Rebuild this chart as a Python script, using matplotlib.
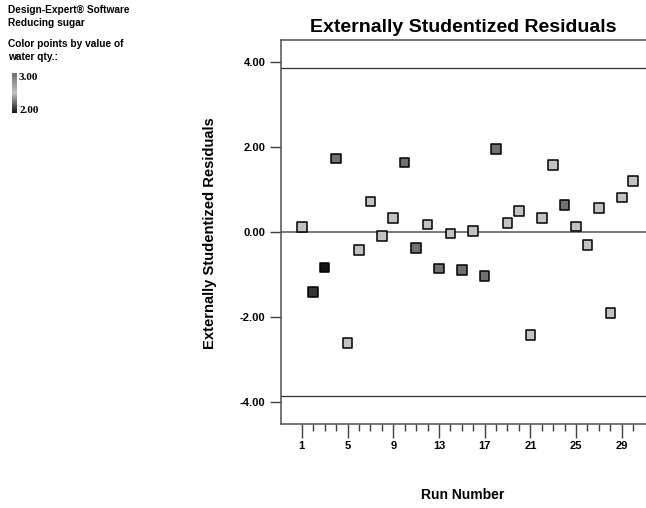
import numpy as np
import matplotlib
matplotlib.use("Agg")
import matplotlib.pyplot as plt
from matplotlib.colors import LinearSegmentedColormap

plt.rcParams['font.family'] = ['Liberation Sans', 'DejaVu Sans']
plt.rcParams['font.weight'] = 'bold'

# residuals by run order
runs = list(range(1, 31))
residuals = [0.11, -1.42, -0.84, 1.72, -2.62, -0.43, 0.71, -0.10, 0.32, 1.63,
             -0.38, 0.17, -0.86, -0.04, -0.90, 0.02, -1.04, 1.95, 0.20, 0.49,
             -2.43, 0.32, 1.57, 0.63, 0.12, -0.31, 0.56, -1.91, 0.81, 1.20]
# water qty. of each run (colour key)
water_qty = [2.5, 2.1, 2.0, 3.0, 2.5, 2.5, 2.5, 2.5, 2.5, 3.0,
             3.0, 2.5, 3.0, 2.5, 3.0, 2.5, 3.0, 3.0, 2.5, 2.5,
             2.5, 2.5, 2.5, 3.0, 2.5, 2.5, 2.5, 2.5, 2.5, 2.5]
limit = 3.85
x_ticks = [1, 5, 9, 13, 17, 21, 25, 29]
y_ticks = [-4.0, -2.0, 0.0, 2.0, 4.0]

# grey rendering of the blue-green-red scale
cmap = LinearSegmentedColormap.from_list(
    "grey_scale", [(0.0, "#141414"), (0.5, "#c2c2c2"), (1.0, "#707070")])

fig = plt.figure(figsize=(6.46, 5.08), dpi=100)
ax = fig.add_axes([281 / 646, 1 - 424 / 508, 1 - 281 / 646, (424 - 40) / 508])

ax.axhline(0, color="#707070", lw=1.3, zorder=1)
ax.axhline(limit, color="#303030", lw=0.9, zorder=1)
ax.axhline(-limit, color="#303030", lw=0.9, zorder=1)

ax.scatter(runs, residuals, c=water_qty, cmap=cmap, vmin=2.0, vmax=3.0,
           marker="s", s=48, edgecolors="black", linewidths=1.1, zorder=3)

ax.set_xlim(-0.82, 31.12)
ax.set_ylim(-4.52, 4.51)
ax.set_xticks(x_ticks)
ax.set_xticks(runs, minor=True)
ax.set_yticks(y_ticks)
ax.set_yticklabels([f"{v:.2f}" for v in y_ticks])
ax.tick_params(axis="both", which="both", direction="out", color="#404040",
               width=1, labelsize=8)
ax.tick_params(axis="x", which="major", length=10, pad=2)
ax.tick_params(axis="x", which="minor", length=5)
ax.tick_params(axis="y", which="major", length=8, pad=3)
for lab in ax.get_xticklabels() + ax.get_yticklabels():
    lab.set_fontweight("bold")

for side in ["left", "top", "bottom"]:
    ax.spines[side].set_color("#505050")
    ax.spines[side].set_linewidth(1.1)
ax.spines["right"].set_visible(False)

ax.set_title("Externally Studentized Residuals", fontsize=14, fontweight="bold",
             pad=6, x=0.5)
fig.text(210 / 646, 1 - 233 / 508, "Externally Studentized Residuals",
         rotation=90, ha="center", va="center", fontsize=10.6, fontweight="bold")
fig.text(463 / 646, 1 - 495 / 508, "Run Number", ha="center", va="center",
         fontsize=10, fontweight="bold")

# header text on the left
header = ["Design-Expert® Software", "Reducing sugar",
          "Color points by value of", "water qty.:"]
for txt, ypix in zip(header, [10, 23, 44, 57]):
    fig.text(8 / 646, 1 - ypix / 508, txt, fontsize=7.3, fontweight="bold",
             va="center")

cax = fig.add_axes([12 / 646, 1 - 113 / 508, 5 / 646, 40 / 508])
grad = np.linspace(3.0, 2.0, 100).reshape(-1, 1)
cax.imshow(grad, cmap=cmap, vmin=2.0, vmax=3.0, aspect="auto")
cax.axis("off")
fig.text(19 / 646, 1 - 77 / 508, "3.00", fontsize=8, fontweight="bold",
         va="center", family="Liberation Serif")
fig.text(19 / 646, 1 - 110 / 508, "2.00", fontsize=8, fontweight="bold",
         va="center", family="Liberation Serif")

fig.savefig("out.png", dpi=100)
